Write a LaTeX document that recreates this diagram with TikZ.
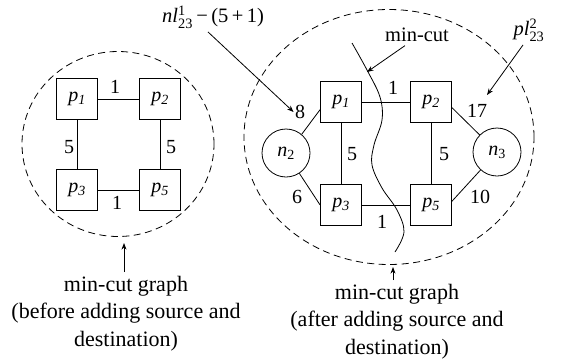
\documentclass[tikz,border=0pt]{standalone}
\usepackage{amsmath}
\usepackage{fontspec}
\setmainfont{Liberation Serif}
\usetikzlibrary{arrows.meta,shapes.geometric}

\begin{document}
\begin{tikzpicture}[x=1pt,y=-1pt,>=Stealth,line width=.8pt,
 pbox/.style={draw,minimum size=41pt,inner sep=0pt,font=\fontsize{20}{24}\selectfont\itshape},
 nvert/.style={draw,circle,minimum size=48pt,inner sep=0pt,font=\fontsize{20}{24}\selectfont},
 wt/.style={inner sep=1pt,font=\fontsize{20}{24}\selectfont},
 grp/.style={draw,ellipse,dash pattern=on 7pt off 4.5pt,inner sep=0pt},
 captext/.style={anchor=north,align=center,font=\fontsize{22}{27.5}\selectfont},
 note/.style={font=\fontsize{20.5}{25}\selectfont}]
 \useasboundingbox(0,0)rectangle(564,362);
 % before adding source and destination
 \node[grp,minimum width=192pt,minimum height=185pt](gA)at(118,144){};
 \node[pbox](a1)at(77,99){p\textsubscript{1}};
 \node[pbox](a2)at(160,99){p\textsubscript{2}};
 \node[pbox](a3)at(77,190){p\textsubscript{3}};
 \node[pbox](a5)at(160,190){p\textsubscript{5}};
 \draw(a1)--(a2) (a1)--(a3) (a2)--(a5) (a3)--(a5);
 \node[wt](wa12)at(115,87){1};
 \node[wt](wa13)at(69,147){5};
 \node[wt](wa25)at(171,147){5};
 \node[wt](wa35)at(117,203){1};
 \node[captext](capA)at(126,272){min-cut graph\\(before adding source and\\destination)};
 \coordinate(tipA)at(124,243);
 \draw[->]([xshift=-2pt]capA.north)--(tipA);
 % after adding source and destination
 \node[grp,minimum width=290pt,minimum height=255pt](gB)at(389,137){};
 \node[pbox](b1)at(341,102){p\textsubscript{1}};
 \node[pbox](b2)at(431,102){p\textsubscript{2}};
 \node[pbox](b3)at(341,205){p\textsubscript{3}};
 \node[pbox](b5)at(431,205){p\textsubscript{5}};
 \node[nvert](n2)at(286,153){\textit{n}\textsubscript{2}};
 \node[nvert](n3)at(497,152){\textit{n}\textsubscript{3}};
 \draw(b1)--(b2) (b1)--(b3) (b2)--(b5) (b3)--(b5);
 \draw(n2.50)--(b1.200) (n2)--(b3.west) (b2.-15)--(n3) (b5.10)--(n3);
 \node[wt](wb12)at(393,88){1};
 \node[wt](wb13)at(352,154){5};
 \node[wt](wb25)at(444,154){5};
 \node[wt](wb35)at(382,222){1};
 \node[wt](w8)at(300,112){8};
 \node[wt](w17)at(477,111){17};
 \node[wt](w6)at(297,197){6};
 \node[wt](w10)at(480,197){10};
 % the cut
 \draw plot[smooth,tension=.6]coordinates{(352,43)(367,70)(380,97)(382,120)(374,145)(372,165)(382,188)(397,210)(404,232)(395,252)};
 \coordinate(cutpt)at(367,72);
 \node[note](mclab)at(417,35){min-cut};
 \draw[->]([xshift=-12pt]mclab.south)--(cutpt);
 \node[note](nlab)at(213,17){\textit{nl}$^{\text{1}}_{\text{23}}$\,−\,(5\,+\,1)};
 \draw[->]([xshift=-5pt]nlab.south)--(w8.west);
 \node[note](plab)at(529,30){\textit{pl}$^{\text{2}}_{\text{23}}$};
 \coordinate(plend)at(487,95);
 \draw[->]([xshift=-6pt]plab.south)--(plend);
 \node[captext](capB)at(397,280){min-cut graph\\(after adding source and\\destination)};
 \coordinate(tipB)at(393,267);
 \draw[->]([xshift=-4pt]capB.north)--(tipB);
\end{tikzpicture}
\end{document}
